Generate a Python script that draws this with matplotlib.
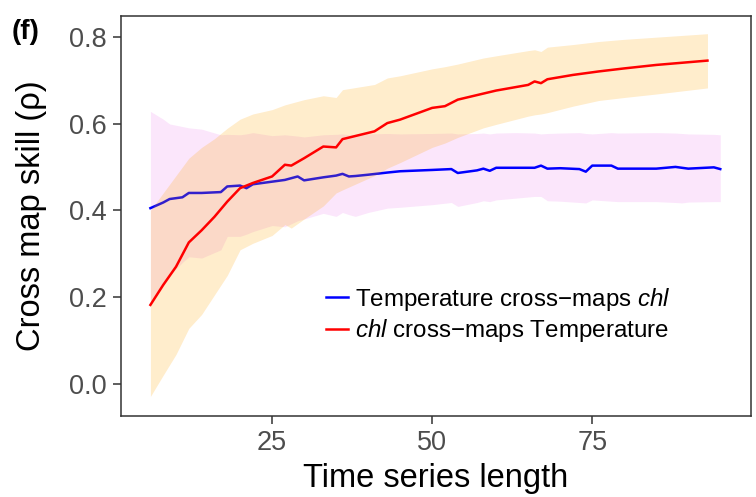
import matplotlib
matplotlib.use("Agg")
import matplotlib.pyplot as plt

plt.rcParams['font.family'] = ['Liberation Sans', 'DejaVu Sans']
plt.rcParams['mathtext.fontset'] = 'custom'
plt.rcParams['mathtext.it'] = 'Liberation Sans:italic'
plt.rcParams['mathtext.rm'] = 'Liberation Sans'

# Temperature cross-maps chl (blue)
temp_lib = [6, 8, 9, 11, 12, 14, 17, 18, 20, 21,
            22, 25, 27, 29, 30, 33, 35, 36, 37, 38,
            40, 43, 45, 50, 53, 54, 57, 58, 59, 60,
            63, 66, 67, 68, 70, 73, 74, 75, 78, 79,
            85, 88, 89, 90, 94, 95]
temp_rho = [.405, .418, .426, .430, .440, .440, .442, .455, .457, .451,
            .460, .466, .470, .478, .469, .476, .480, .484, .478, .479,
            .482, .487, .490, .493, .495, .486, .492, .496, .491, .498,
            .498, .498, .503, .496, .497, .495, .489, .503, .503, .496,
            .496, .500, .498, .496, .499, .495]
temp_hi = [.628, .610, .599, .593, .590, .587, .574, .575, .574, .576,
           .579, .572, .574, .571, .569, .574, .575, .576, .574, .575,
           .576, .577, .576, .577, .578, .576, .577, .578, .576, .578,
           .579, .578, .576, .577, .578, .579, .577, .576, .579, .578,
           .579, .578, .577, .576, .575, .574]
temp_lo = [.190, .230, .250, .280, .293, .290, .309, .340, .340, .345,
           .351, .365, .362, .376, .380, .393, .386, .395, .390, .386,
           .395, .405, .407, .413, .418, .409, .418, .422, .420, .424,
           .428, .432, .432, .422, .421, .418, .417, .424, .421, .420,
           .420, .418, .417, .419, .420, .420]

# chl cross-maps Temperature (red)
chl_lib = [6, 8, 10, 12, 14, 16, 18, 20, 22, 25,
           27, 28, 30, 33, 35, 36, 41, 43, 45, 50,
           52, 54, 58, 60, 65, 66, 67, 68, 72, 76,
           80, 85, 89, 93]
chl_rho = [.182, .228, .270, .326, .354, .385, .420, .451, .463, .478,
           .505, .503, .520, .547, .545, .564, .582, .601, .609, .636,
           .640, .655, .669, .676, .689, .697, .693, .702, .712, .720,
           .727, .735, .740, .745]
chl_hi = [.400, .440, .480, .520, .545, .565, .589, .610, .622, .632,
          .643, .647, .655, .664, .660, .678, .690, .705, .710, .726,
          .731, .737, .751, .756, .768, .770, .766, .776, .782, .789,
          .794, .799, .803, .807]
chl_lo = [-.029, .020, .068, .128, .160, .205, .250, .309, .324, .342,
          .367, .359, .380, .410, .440, .447, .480, .497, .510, .545,
          .555, .568, .590, .598, .617, .620, .622, .625, .640, .653,
          .660, .668, .675, .682]

fig = plt.figure(figsize=(7.56, 4.97), dpi=100)
ax = fig.add_axes([0.160, 0.163, 0.8334, 0.805])

ax.fill_between(temp_lib, temp_lo, temp_hi, color='violet', alpha=0.2, lw=0, zorder=1)
ax.plot(temp_lib, temp_rho, color='blue', lw=1.8, zorder=2,
        label='Temperature cross\u2212maps $chl$')
ax.fill_between(chl_lib, chl_lo, chl_hi, color='orange', alpha=0.2, lw=0, zorder=3)
ax.plot(chl_lib, chl_rho, color='red', lw=1.8, zorder=4,
        label='$chl$ cross\u2212maps Temperature')

ax.set_xlim(1.4, 99.8)
ax.set_ylim(-0.074, 0.848)
ax.set_xticks([25, 50, 75])
ax.set_yticks([0.0, 0.2, 0.4, 0.6, 0.8])
ax.set_yticklabels(['0.0', '0.2', '0.4', '0.6', '0.8'])

for s in ax.spines.values():
    s.set_color('#333333')
    s.set_linewidth(1.1)
ax.tick_params(direction='out', length=6, width=1.1, color='#333333',
               labelcolor='#4D4D4D', labelsize=19.5, pad=4)

ax.set_xlabel('Time series length', fontsize=23.5, labelpad=5)
ax.set_ylabel('Cross map skill (\u03c1)', fontsize=23.5, labelpad=16)

leg = ax.legend(loc='upper left', bbox_to_anchor=(0.31, 0.35), frameon=False,
                fontsize=17.4, handlelength=0.9, handletextpad=0.3,
                labelspacing=0.2, borderaxespad=0)

fig.text(0.016, 0.922, '(f)', fontsize=20, fontweight='bold')

fig.savefig('out.png', dpi=100)
